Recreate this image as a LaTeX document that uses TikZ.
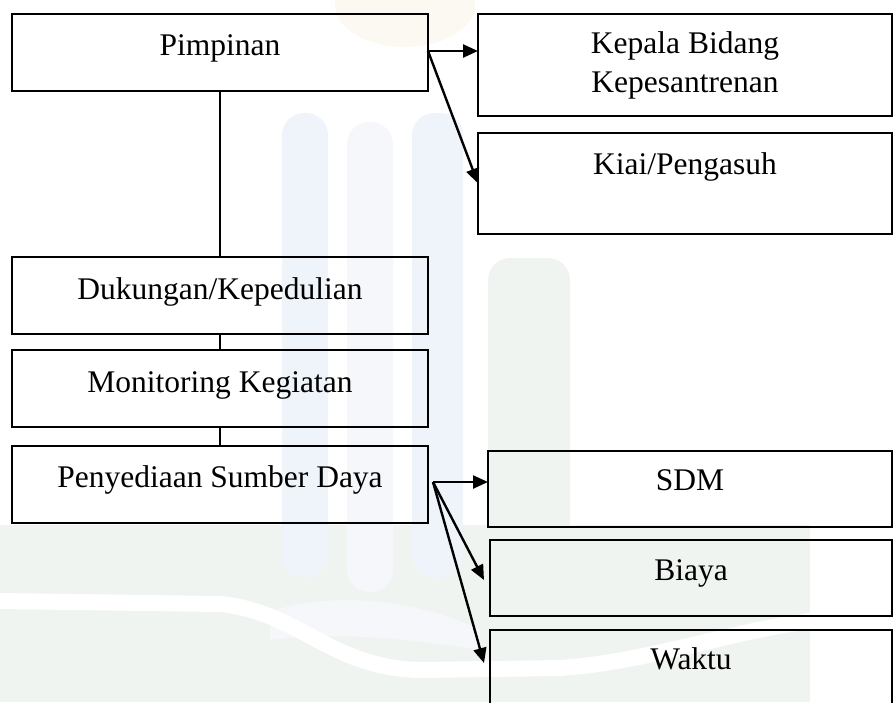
\documentclass[tikz,border=0pt]{standalone}
\usepackage{fontspec}
\setmainfont{Liberation Serif}
\usetikzlibrary{arrows.meta}
\definecolor{wmblue}{HTML}{EEF4FA}
\definecolor{wmpale}{HTML}{F5F7FB}
\definecolor{wmgreen}{HTML}{F0F4F1}
\definecolor{wmsand}{HTML}{FCF9F3}
\newcommand{\boxfont}{\fontsize{31.5}{39}\selectfont}

\begin{document}
\begin{tikzpicture}[x=1pt,y=-1pt,
  orgbox/.style={draw, line width=2pt, rectangle, inner sep=0pt, outer sep=0pt,
    anchor=north west, align=flush center, font=\boxfont},
  link/.style={line width=2pt},
  arrowlink/.style={line width=2.4pt, -{Triangle[length=15pt,width=13pt]}},
  pillar/.style={rounded corners=22pt},
]
\useasboundingbox (0,0) rectangle (894,702);
\begin{scope}
\clip (0,0) rectangle (894,702);

% faint background emblem: crown, open book and pillars
\fill[wmsand] (405,5) ellipse (70 and 42);
\fill[wmgreen] (0,525) -- (810,525) -- (810,702) -- (0,702) -- cycle;
\fill[wmblue, pillar] (282,578) -- (282,113) -- (328,113) -- (328,578) -- cycle;
\fill[wmpale, pillar] (347,592) -- (347,122) -- (393,122) -- (393,592) -- cycle;
\fill[wmblue, pillar] (412,578) -- (412,113) -- (463,113) -- (463,578) -- cycle;
\fill[wmgreen, pillar] (488,578) -- (488,258) -- (570,258) -- (570,578) -- cycle;
\fill[wmpale] (270,612) .. controls (330,590) and (420,600) .. (480,630) -- (480,650) .. controls (420,640) and (330,630) .. (270,640) -- cycle;
\draw[white, line width=16pt] (0,601) -- (220,604) .. controls (300,612) and (330,668) .. (420,670)
   -- (560,668) .. controls (650,662) and (740,628) .. (820,620);

% left column
\node[orgbox, text width=416pt, text height=41pt, text depth=36pt] (pim) at (12,14) {Pimpinan};
\node[orgbox, text width=416pt, text height=42pt, text depth=35pt] (duk) at (12,257) {Dukungan/Kepedulian};
\node[orgbox, text width=416pt, text height=42pt, text depth=35pt] (mon) at (12,350) {Monitoring Kegiatan};
\node[orgbox, text width=416pt, text height=41pt, text depth=36pt] (pen) at (12,446) {Penyediaan Sumber Daya};

% right column, upper group
\node[orgbox, text width=414pt, text height=39pt, text depth=63pt] (kep) at (478,14) {Kepala Bidang\\Kepesantrenan};
\node[orgbox, text width=414pt, text height=41pt, text depth=60pt] (kiai) at (478,133) {Kiai/Pengasuh};

% right column, lower group
\node[orgbox, text width=404pt, text height=39pt, text depth=37pt] (sdm) at (488,451) {SDM};
\node[orgbox, text width=402pt, text height=40pt, text depth=36pt] (biaya) at (490,540) {Biaya};
\node[orgbox, text width=402pt, text height=39pt, text depth=60pt] (waktu) at (490,630) {Waktu};

% vertical spine
\draw[link] (pim.south) -- (duk.north);
\draw[link] (duk.south) -- (mon.north);
\draw[link] (mon.south) -- (pen.north);

% branches from Pimpinan
\coordinate (p0) at (428,51);
\draw[arrowlink] (p0) -- (p0 -| kep.west);
\draw[arrowlink] (p0) -- (kiai.west);

% branches from Penyediaan Sumber Daya
\coordinate (q0) at (433,482);
\coordinate (qb) at (484,580);
\coordinate (qw) at (484,663);
\draw[arrowlink] (q0) -- (q0 -| sdm.west);
\draw[arrowlink] (q0) -- (qb);
\draw[arrowlink] (q0) -- (qw);
\end{scope}
\end{tikzpicture}
\end{document}
